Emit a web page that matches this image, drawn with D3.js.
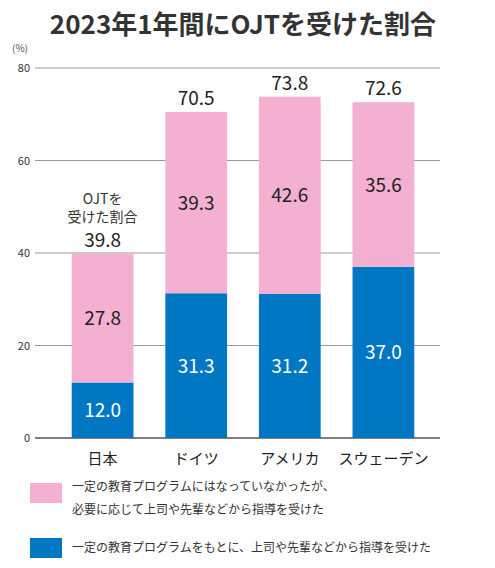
<!DOCTYPE html><html><head><meta charset="utf-8"><script src="https://cdn.jsdelivr.net/npm/d3@7"></script>
<style>body{margin:0;background:#fff}text{font-family:"Noto Sans CJK JP","Noto Sans",sans-serif}</style></head><body>
<script>
const categories=["日本","ドイツ","アメリカ","スウェーデン"];
const blueVals=[12.0,31.3,31.2,37.0];
const pinkVals=[27.8,39.3,42.6,35.6];
const totals=[39.8,70.5,73.8,72.6];
const yTicks=[0,20,40,60,80];
const legendLabels=[["一定の教育プログラムにはなっていなかったが、","必要に応じて上司や先輩などから指導を受けた"],["一定の教育プログラムをもとに、上司や先輩などから指導を受けた"]];
const W=495,H=568,pink="#f4b0d0",blue="#0077c2";
const svg=d3.select("body").append("svg").attr("width",W).attr("height",H);
svg.append("text").attr("x",243).attr("y",34).attr("text-anchor","middle").attr("font-size",26).attr("font-weight","bold").attr("fill","#333").text("2023年1年間にOJTを受けた割合");
const y=d3.scaleLinear().domain([0,80]).range([438,68]);
const x=d3.scaleBand().domain(categories).range([53,433]).paddingInner(0.34).paddingOuter(0.2);
yTicks.forEach(t=>{svg.append("line").attr("x1",35).attr("x2",440).attr("y1",y(t)).attr("y2",y(t)).attr("stroke",t==0?"#555":"#999").attr("stroke-width",t==0?1.5:1);
svg.append("text").attr("x",30).attr("y",y(t)+4).attr("text-anchor","end").attr("font-size",11).attr("fill","#333").text(t);});
svg.append("text").attr("x",12).attr("y",52).attr("font-size",10).attr("fill","#555").text("(%)");
categories.forEach((c,i)=>{const bx=x(c),bw=x.bandwidth();
svg.append("rect").attr("x",bx).attr("width",bw).attr("y",y(blueVals[i])).attr("height",y(0)-y(blueVals[i])).attr("fill",blue);
svg.append("rect").attr("x",bx).attr("width",bw).attr("y",y(totals[i])).attr("height",y(blueVals[i])-y(totals[i])).attr("fill",pink);
const cx=bx+bw/2;
svg.append("text").attr("x",cx).attr("y",(y(0)+y(blueVals[i]))/2+7).attr("text-anchor","middle").attr("font-size",19).attr("fill","#fff").text(blueVals[i].toFixed(1));
svg.append("text").attr("x",cx).attr("y",(y(blueVals[i])+y(totals[i]))/2+7).attr("text-anchor","middle").attr("font-size",19).attr("fill","#222").text(pinkVals[i].toFixed(1));
svg.append("text").attr("x",cx).attr("y",y(totals[i])-7).attr("text-anchor","middle").attr("font-size",19).attr("fill","#222").text(totals[i].toFixed(1));
svg.append("text").attr("x",cx).attr("y",464).attr("text-anchor","middle").attr("font-size",15).attr("fill","#222").text(c);
if(i==0){svg.append("text").attr("x",cx).attr("y",y(totals[i])-50).attr("text-anchor","middle").attr("font-size",14).attr("fill","#333").text("OJTを");
svg.append("text").attr("x",cx).attr("y",y(totals[i])-32).attr("text-anchor","middle").attr("font-size",14).attr("fill","#333").text("受けた割合");}
});
[[pink,483],[blue,538]].forEach(([col,ly],k)=>{svg.append("rect").attr("x",30).attr("y",ly).attr("width",32).attr("height",20).attr("fill",col);
legendLabels[k].forEach((t,j)=>svg.append("text").attr("x",72).attr("y",ly+(legendLabels[k].length>1?8:14)+j*23).attr("font-size",12).attr("fill","#333").text(t));});
</script></body></html>
